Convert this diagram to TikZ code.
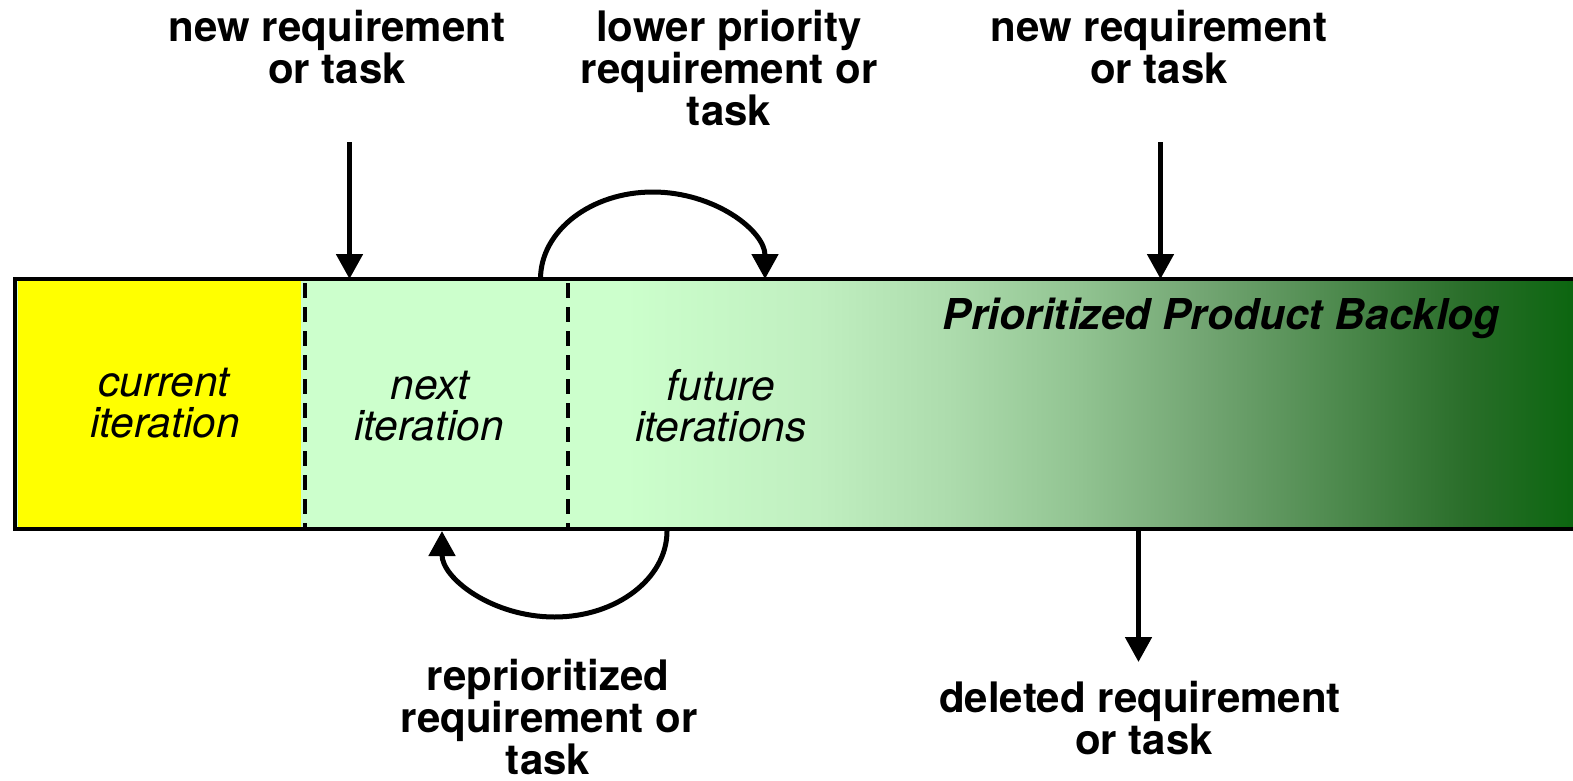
\documentclass[tikz,border=0pt]{standalone}
\usepackage{fontspec}
\setmainfont{TeX Gyre Heros}
\usetikzlibrary{arrows.meta}
\definecolor{curyellow}{RGB}{255,255,0}
\definecolor{nextgreen}{RGB}{204,255,204}
\definecolor{gA}{RGB}{204,255,204}
\definecolor{gB}{RGB}{192,239,192}
\definecolor{gC}{RGB}{173,220,173}
\definecolor{gD}{RGB}{146,196,146}
\definecolor{gE}{RGB}{114,165,114}
\definecolor{gF}{RGB}{78,138,78}
\definecolor{gG}{RGB}{42,110,42}
\definecolor{gH}{RGB}{12,102,16}
\pgfdeclarehorizontalshading{backlog}{100bp}{color(0bp)=(gA); color(25bp)=(gA); color(27.8bp)=(gA); color(37.4bp)=(gB); color(43.9bp)=(gC); color(50.3bp)=(gD); color(56.7bp)=(gE); color(63.2bp)=(gF); color(69.6bp)=(gG); color(75bp)=(gH); color(100bp)=(gH)}
\tikzset{
  lbl/.style={font=\fontsize{42}{42}\selectfont\bfseries, inner sep=0pt, anchor=base},
  itl/.style={font=\fontsize{42.5}{42}\selectfont\itshape, inner sep=0pt, anchor=base},
  ttl/.style={font=\fontsize{42.5}{42}\selectfont\bfseries\itshape, inner sep=0pt, anchor=base east},
  arr/.style={line width=5pt, -{Triangle[length=25pt,width=26pt]}},
  sep/.style={line width=4.5pt, dash pattern=on 15pt off 9pt},
  barbox/.style={draw, line width=3.5pt, inner sep=0pt, outer sep=0pt, anchor=north west, minimum width=1600pt, minimum height=250pt}
}
\begin{document}
\begin{tikzpicture}[x=1pt,y=-1pt]
\useasboundingbox[fill=white] (0,0) rectangle (1573,781);
\clip (0,0) rectangle (1573,781);
% bar fills
\fill[nextgreen] (15,279) rectangle (1600,529);
\fill[curyellow] (18,281) rectangle (301,527.5);
\shade[shading=backlog] (568,281) rectangle (1573,527.5);
\draw[sep] (305,283) -- (305,527);
\draw[sep] (568,283) -- (568,527);
\node[barbox] (bar) at (15,279) {};
% inner labels
\node[itl] (cur1) at (164,396) {current};
\node[itl] (cur2) at (165,437) {iteration};
\node[itl] (nxt1) at (430,399) {next};
\node[itl] (nxt2) at (429,440) {iteration};
\node[itl] (fut1) at (721,400) {future};
\node[itl] (fut2) at (721,441) {iterations};
\node[ttl] (title) at (1500,329) {Prioritized Product Backlog};
% top labels
\node[lbl] (nl1) at (337,42) {new requirement};
\node[lbl] (nl2) at (337,84) {or task};
\node[lbl] (lp1) at (729,42) {lower priority};
\node[lbl] (lp2) at (729,84) {requirement or};
\node[lbl] (lp3) at (729,126) {task};
\node[lbl] (nr1) at (1159,42) {new requirement};
\node[lbl] (nr2) at (1159,84) {or task};
% bottom labels
\node[lbl] (rp1) at (548,690) {reprioritized};
\node[lbl] (rp2) at (549,732) {requirement or};
\node[lbl] (rp3) at (548,774) {task};
\node[lbl] (dl1) at (1140,712) {deleted requirement};
\node[lbl] (dl2) at (1144,754) {or task};
% straight arrows
\coordinate (n1) at (349.5,142);
\coordinate (n2) at (1160.5,142);
\coordinate (d1) at (1138.5,662);
\draw[arr] (n1) -- (n1 |- bar.north);
\draw[arr] (n2) -- (n2 |- bar.north);
\draw[arr] (d1 |- bar.south) -- (d1);
% curved arrows
\coordinate (ua) at (540.5,279);
\coordinate (tp) at (652.75,192);
\coordinate (ub) at (765,279);
\draw[arr] (ua) .. controls +(0,-48) and +(-62,0) .. (tp) .. controls +(62,0) and +(0,-48) .. (ub);
\coordinate (la) at (667,531);
\coordinate (bp) at (554.5,617);
\coordinate (lb) at (442,531);
\draw[arr] (la) .. controls +(0,47.5) and +(62,0) .. (bp) .. controls +(-62,0) and +(0,47.5) .. (lb);
\end{tikzpicture}
\end{document}
